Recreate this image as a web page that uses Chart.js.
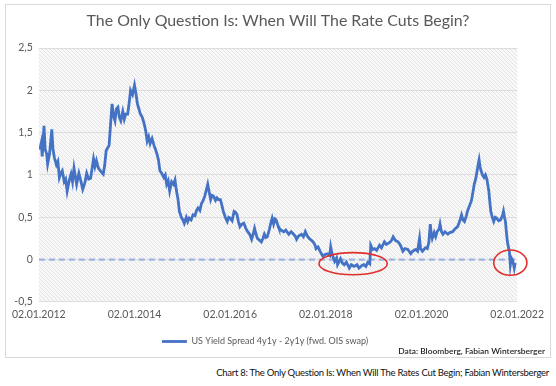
<!DOCTYPE html>
<html><head><meta charset="utf-8">
<script src="https://cdn.jsdelivr.net/npm/chart.js@4"></script>
<style>
html,body{margin:0;padding:0;background:#fff;}
body{width:556px;height:386px;position:relative;overflow:hidden;font-family:Lato,sans-serif;}
#box{position:absolute;left:5px;top:4px;width:544px;height:352px;border:1px solid #d9d9d9;}
#caption{position:absolute;right:7px;top:367px;font-size:9.5px;color:#111;white-space:nowrap;font-family:Lato,sans-serif;}
</style></head>
<body>
<div id="box"><canvas id="c" width="544" height="352"></canvas></div>
<div id="caption">Chart 8: The Only Question Is: When Will The Rates Cut Begin; Fabian Wintersberger</div>
<script>
// years elapsed since 02.01.2012
const yearsSince2012 = [
0.020,0.051,0.071,0.108,0.133,0.163,0.184,0.224,0.271,0.296,0.327,0.367,0.398,0.429,0.459,0.490,0.531,0.561,0.592,0.633,
0.673,0.704,0.735,0.790,0.837,0.878,0.918,0.959,1.000,1.041,1.082,1.143,1.173,1.204,1.245,1.286,1.347,1.378,1.408,1.469,
1.500,1.531,1.561,1.592,1.622,1.653,1.684,1.714,1.755,1.786,1.816,1.857,1.888,1.918,1.959,2.000,2.031,2.061,2.092,2.122,
2.163,2.204,2.235,2.265,2.296,2.327,2.367,2.408,2.439,2.469,2.500,2.531,2.571,2.612,2.643,2.673,2.704,2.735,2.776,2.816,
2.847,2.878,2.908,2.939,2.980,3.010,3.041,3.082,3.112,3.143,3.184,3.224,3.265,3.296,3.327,3.367,3.398,3.429,3.469,3.500,
3.531,3.561,3.592,3.622,3.653,3.694,3.724,3.755,3.796,3.827,3.857,3.898,3.939,3.969,4.000,4.041,4.082,4.112,4.143,4.173,
4.204,4.245,4.286,4.327,4.367,4.408,4.449,4.480,4.510,4.541,4.571,4.612,4.653,4.684,4.714,4.745,4.776,4.816,4.857,4.878,
4.908,4.939,4.959,5.000,5.020,5.061,5.122,5.163,5.224,5.276,5.327,5.367,5.388,5.429,5.490,5.531,5.571,5.612,5.653,5.694,
5.735,5.776,5.796,5.837,5.878,5.939,5.980,6.041,6.082,6.102,6.133,6.184,6.224,6.245,6.306,6.347,6.388,6.429,6.490,6.531,
6.592,6.653,6.694,6.755,6.796,6.837,6.878,6.918,6.939,6.980,7.020,7.061,7.122,7.163,7.224,7.265,7.327,7.367,7.408,7.449,
7.510,7.551,7.612,7.653,7.714,7.776,7.816,7.878,7.918,7.959,7.980,8.020,8.082,8.122,8.153,8.184,8.204,8.224,8.265,8.296,
8.327,8.367,8.388,8.418,8.449,8.490,8.551,8.592,8.653,8.694,8.755,8.796,8.837,8.867,8.898,8.939,8.959,9.000,9.041,9.071,
9.102,9.133,9.163,9.184,9.204,9.224,9.245,9.276,9.306,9.337,9.367,9.388,9.408,9.429,9.449,9.480,9.510,9.541,9.571,9.612,
9.653,9.694,9.714,9.735,9.755,9.776,9.796,9.816,9.837,9.857,9.878,9.898,9.918,9.939,9.959
];
// US Yield Spread 4y1y - 2y1y (fwd. OIS swap)
const spread = [
1.30,1.38,1.22,1.58,1.30,1.25,1.13,1.25,1.54,1.30,1.20,1.12,1.16,0.97,1.02,1.05,0.92,0.95,0.81,0.93,
1.01,0.92,1.08,0.89,1.02,0.93,0.83,0.90,1.02,0.95,0.96,1.19,1.10,1.17,1.08,1.05,1.01,1.12,1.29,1.35,
1.60,1.84,1.70,1.64,1.78,1.80,1.68,1.64,1.75,1.66,1.72,1.72,1.85,2.00,1.95,2.06,1.96,1.84,1.78,1.72,
1.68,1.60,1.52,1.40,1.45,1.37,1.43,1.35,1.30,1.25,1.18,1.05,1.02,0.97,1.00,0.89,0.93,0.81,0.92,0.89,
0.94,0.81,0.72,0.57,0.50,0.47,0.43,0.50,0.45,0.49,0.47,0.53,0.52,0.58,0.61,0.58,0.66,0.69,0.75,0.82,
0.89,0.80,0.71,0.76,0.75,0.70,0.73,0.71,0.71,0.64,0.57,0.50,0.45,0.50,0.49,0.46,0.57,0.56,0.53,0.45,
0.39,0.42,0.43,0.37,0.33,0.30,0.24,0.30,0.37,0.30,0.25,0.23,0.21,0.25,0.30,0.26,0.27,0.35,0.45,0.49,
0.42,0.48,0.47,0.40,0.37,0.35,0.33,0.35,0.30,0.33,0.30,0.27,0.24,0.28,0.30,0.27,0.33,0.28,0.25,0.23,
0.21,0.17,0.13,0.15,0.10,0.04,0.06,0.07,0.05,0.15,0.06,-0.02,0.02,-0.06,0.01,-0.04,-0.06,-0.03,-0.10,-0.06,
-0.08,-0.06,-0.10,-0.07,-0.06,-0.08,-0.03,-0.05,0.17,0.12,0.13,0.11,0.17,0.14,0.21,0.18,0.20,0.22,0.27,0.23,
0.21,0.18,0.10,0.13,0.12,0.07,0.10,0.12,0.10,0.25,0.13,0.10,0.14,0.13,0.20,0.42,0.30,0.25,0.32,0.27,
0.33,0.36,0.42,0.33,0.30,0.33,0.30,0.32,0.33,0.36,0.39,0.45,0.53,0.47,0.45,0.52,0.57,0.63,0.69,0.78,
0.89,0.95,1.05,1.12,1.18,1.10,1.05,1.00,0.97,1.00,0.95,0.88,0.81,0.68,0.57,0.50,0.45,0.50,0.49,0.46,
0.47,0.52,0.57,0.50,0.45,0.32,0.21,0.15,0.10,-0.06,0.02,0.00,-0.04,-0.10,-0.04
];
const xTickLabels = ['02.01.2012','02.01.2014','02.01.2016','02.01.2018','02.01.2020','02.01.2022'];
const yTickLabels = ['-0,5','0','0,5','1','1,5','2','2,5'];
const baseline = 0;
// highlighted regions (centre in years since 2012 / spread units, half-width in years, half-height in spread units)
const highlights = [[6.57,-0.048,0.714,0.131],[9.857,-0.036,0.347,0.149]];

const titleText = 'The Only Question Is: When Will The Rate Cuts Begin?';
const seriesName = 'US Yield Spread 4y1y - 2y1y (fwd. OIS swap)';
const sourceText = 'Data: Bloomberg, Fabian Wintersberger';

function fit(text, font, target){
  const c = document.createElement('canvas').getContext('2d');
  c.font = font.replace('SIZE','100px');
  return 100*target/c.measureText(text).width;
}

function build(){
  const FAM = 'Lato, sans-serif';
  const titleSize = fit(titleText, 'SIZE '+FAM, 383);
  const legendSize = fit(seriesName, 'SIZE '+FAM, 177);
  const srcSize = fit(sourceText, '600 SIZE '+FAM, 147);

  // caption letter spacing
  const cap = document.getElementById('caption');
  const w = cap.getBoundingClientRect().width;
  const n = cap.textContent.length;
  cap.style.letterSpacing = ((333 - w)/n).toFixed(3)+'px';

  const hatchC = document.createElement('canvas');
  hatchC.width = 4; hatchC.height = 4;
  const h = hatchC.getContext('2d');
  h.fillStyle = '#f8f8f8'; h.fillRect(0,0,4,4);
  h.strokeStyle = '#e4e4e4'; h.lineWidth = 1;
  h.beginPath(); h.moveTo(-1,-1); h.lineTo(5,5); h.stroke();
  h.beginPath(); h.moveTo(-1,3); h.lineTo(1,5); h.stroke();
  h.beginPath(); h.moveTo(3,-1); h.lineTo(5,1); h.stroke();

  const deco = {
    id:'deco',
    beforeDraw(chart){
      const {ctx, chartArea:a} = chart;
      ctx.save();
      ctx.fillStyle = ctx.createPattern(hatchC,'repeat');
      ctx.fillRect(a.left, a.top, a.right-a.left, a.bottom-a.top);
      ctx.restore();
    },
    afterDatasetsDraw(chart){
      const {ctx, scales:{x,y}} = chart;
      ctx.save();
      ctx.strokeStyle = '#e0302c'; ctx.lineWidth = 1.6;
      for (const [cx,cy,rx,ry] of highlights){
        const px = x.getPixelForValue(cx), py = y.getPixelForValue(cy);
        const prx = Math.abs(x.getPixelForValue(cx+rx)-px), pry = Math.abs(y.getPixelForValue(cy+ry)-py);
        ctx.beginPath(); ctx.ellipse(px,py,prx,pry,0,0,Math.PI*2); ctx.stroke();
      }
      ctx.restore();
    },
    afterDraw(chart){
      const {ctx, width} = chart;
      ctx.save();
      ctx.fillStyle = '#595959';
      ctx.font = titleSize.toFixed(2)+'px '+FAM;
      ctx.textAlign = 'center'; ctx.textBaseline = 'middle';
      ctx.fillText(titleText, width/2, 16);
      ctx.fillStyle = '#262626';
      ctx.font = '600 '+srcSize.toFixed(2)+'px '+FAM;
      ctx.textAlign = 'right';
      ctx.fillText(sourceText, 539, 346);
      ctx.restore();
    }
  };

  new Chart(document.getElementById('c'), {
    type:'line',
    data:{datasets:[
      {label:seriesName, data:yearsSince2012.map((t,i)=>({x:t,y:spread[i]})),
       borderColor:'#4472C4', backgroundColor:'#4472C4', borderWidth:2.8, pointRadius:0, tension:0, fill:false},
      {label:'zero', data:[{x:0,y:baseline},{x:10,y:baseline}],
       borderColor:'#9db3e0', borderWidth:2.2, borderDash:[6,4], pointRadius:0, fill:false}
    ]},
    options:{
      responsive:false, animation:false,
      layout:{padding:{top:43,left:0,right:26,bottom:1}},
      plugins:{
        tooltip:{enabled:false},
        title:{display:false},
        legend:{position:'bottom',
          labels:{filter:(it)=>it.datasetIndex===0, usePointStyle:true, pointStyle:'line', pointStyleWidth:25,
            color:'#595959', font:{family:FAM, size:legendSize}, padding:10}}
      },
      scales:{
        x:{type:'linear', min:0, max:10,
          grid:{display:false, drawTicks:false}, border:{display:false},
          afterFit(s){ s.height = 25; },
          afterBuildTicks(s){ s.ticks = xTickLabels.map((_,i)=>({value:i*2})); },
          ticks:{padding:6, color:'#595959', font:{family:FAM, size:10.5}, maxRotation:0, autoSkip:false,
            callback:(v)=>xTickLabels[Math.round(v/2)]}},
        y:{type:'linear', min:-0.5, max:2.5,
          grid:{color:'#dcdcdc', lineWidth:1, drawTicks:false}, border:{display:false},
          afterFit(s){ s.width = 28; },
          afterBuildTicks(s){ s.ticks = yTickLabels.map((_,i)=>({value:-0.5+i*0.5})); },
          ticks:{padding:6, color:'#595959', font:{family:FAM, size:10.5},
            callback:(v)=>yTickLabels[Math.round((v+0.5)/0.5)]}}
      }
    },
    plugins:[deco]
  });
}
if (document.fonts && document.fonts.load){
  Promise.all([document.fonts.load('16px Lato'),document.fonts.load('600 16px Lato')]).then(build, build);
} else build();
</script>
</body></html>
